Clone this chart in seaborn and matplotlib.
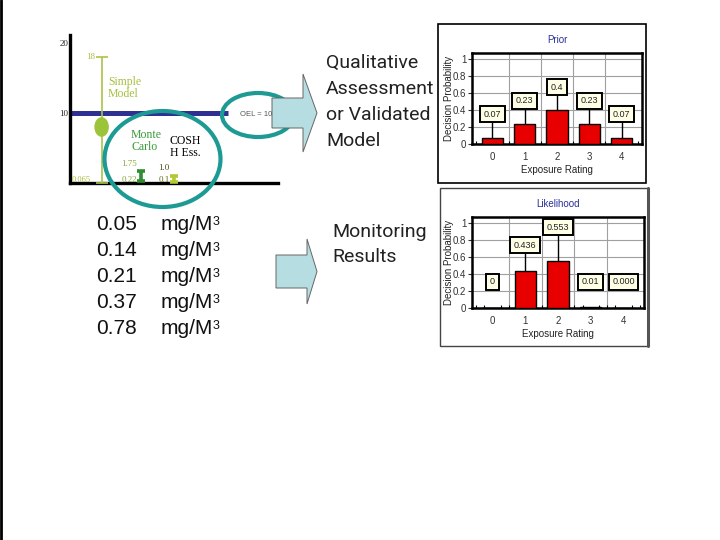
import matplotlib
matplotlib.use("Agg")
import matplotlib.pyplot as plt
import seaborn as sns
from matplotlib.patches import Ellipse, Polygon, Rectangle

# =====================================================
# DATA
# =====================================================

ratings = ["0", "1", "2", "3", "4"]

prior = [0.07, 0.23, 0.4, 0.23, 0.07]
prior_text = ["0.07", "0.23", "0.4", "0.23", "0.07"]

likelihood = [0.0, 0.436, 0.553, 0.01, 0.0]
likelihood_text = ["0", "0.436", "0.553", "0.01", "0.000"]

# exposure estimates (mg/M3): low / high end of each model range
model_names = ["Simple Model", "Monte Carlo", "COSHH Ess."]
model_low = [0.065, 0.22, 0.1]
model_high = [18, 1.75, 1.0]
model_low_text = ["0.065", "0.22", "0.1"]
model_high_text = ["18", "1.75", "1.0"]
simple_point = 8
oel = 10

monitoring = [0.05, 0.14, 0.21, 0.37, 0.78]

# =====================================================
# THEME / FIGURE
# =====================================================

sns.set_theme(style="white")
plt.rcParams["font.family"] = ["Liberation Sans", "DejaVu Sans"]

W, H = 720, 540
fig = plt.figure(figsize=(7.2, 5.4), dpi=100)
fig.patch.set_facecolor("white")


def px_axes(x0, y0, x1, y1, **kw):
    # axes box given in pixels, origin top-left
    return fig.add_axes([x0 / W, 1 - y1 / H, (x1 - x0) / W, (y1 - y0) / H], **kw)


TEAL = "#1d9a94"
OLIVE = "#a5c040"
SERIF = ["Liberation Serif", "DejaVu Serif"]
SLIDE = ["Roboto", "DejaVu Sans"]

# =====================================================
# LEFT: EXPOSURE MODEL DIAGRAM
# =====================================================

axl = px_axes(70, 35, 278, 183)
axl.set_facecolor("none")
axl.set_xlim(0, 10)
axl.set_ylim(0, 21.14)
for side in ["top", "right"]:
    axl.spines[side].set_visible(False)
for side in ["left", "bottom"]:
    axl.spines[side].set_color("black")
    axl.spines[side].set_linewidth(2.4)
axl.set_xticks([])
axl.set_yticks([10, 20])
axl.set_yticklabels(["10", "20"], family=SERIF, fontsize=6.5)
axl.tick_params(axis="y", length=0, pad=1)

axl.hlines(oel, 0, 7.6, color="#2e3192", lw=3.6, zorder=2)

xpos = [1.52, 3.41, 5.0]
colors = ["#a8c44a", "#2f8c2f", "#b3c833"]
widths = [1.2, 2.6, 2.6]
caps = [4.5, 2.6, 2.6]
for x, lo, hi, c, lw, cs in zip(xpos, model_low, model_high, colors, widths, caps):
    axl.errorbar([x], [hi], yerr=[[hi - lo], [0]], fmt="none", ecolor=c,
                 elinewidth=lw, capsize=cs, capthick=lw, zorder=3)

axl.add_patch(Ellipse((xpos[0], simple_point), 0.63, 2.6, color="#9cc43a", zorder=4))

axl.text(xpos[0] - 0.3, model_high[0], model_high_text[0], ha="right", va="center",
         family=SERIF, fontsize=6.5, color=OLIVE)
axl.text(0.1, 0.45, model_low_text[0], ha="left", va="center",
         family=SERIF, fontsize=6, color=OLIVE)
axl.text(xpos[1] - 0.2, 2.7, model_high_text[1], ha="right", va="center",
         family=SERIF, fontsize=6.5, color="#8aa83a")
axl.text(xpos[1] - 0.2, 0.45, model_low_text[1], ha="right", va="center",
         family=SERIF, fontsize=6.5, color="#8aa83a")
axl.text(xpos[2] - 0.2, 2.1, model_high_text[2], ha="right", va="center",
         family=SERIF, fontsize=6.5, color="#4a4a20")
axl.text(xpos[2] - 0.2, 0.45, model_low_text[2], ha="right", va="center",
         family=SERIF, fontsize=6.5, color="#6a6a20")

# =====================================================
# RIGHT: PROBABILITY PANELS
# =====================================================


def prob_panel(box, values, texts, title, label_y):
    ax = px_axes(*box)
    sns.barplot(x=ratings, y=values, color="#e80000", saturation=1,
                edgecolor="black", linewidth=1, width=0.65, ax=ax, zorder=3)
    ax.set_xlim(-0.63, 4.63)
    ax.set_ylim(0, 1.07)
    ax.set_yticks([0, 0.2, 0.4, 0.6, 0.8, 1.0])
    ax.set_yticklabels(["0", "0.2", "0.4", "0.6", "0.8", "1"])
    ax.set_xticks([0, 1, 2, 3, 4], minor=False)
    ax.set_xticks([k * 0.25 - 0.5 for k in range(21)], minor=True)
    ax.tick_params(axis="x", which="major", length=0, labelsize=7, colors="#333", pad=6)
    ax.tick_params(axis="x", which="minor", length=2.5, direction="in", width=0.8,
                   color="black", bottom=True)
    ax.tick_params(axis="y", length=3, width=0.8, labelsize=7, colors="#333", left=True,
                   pad=1)
    ax.yaxis.grid(True, color="#a0a0a0", lw=0.8)
    for k in range(4):
        ax.axvline(k + 0.5, color="#a0a0a0", lw=0.8, zorder=0)
    for s in ax.spines.values():
        s.set_color("black")
        s.set_linewidth(1.8)
    for i, (v, t, ly) in enumerate(zip(values, texts, label_y)):
        if v > 0.05:
            ax.vlines(i, v, ly, color="black", lw=1, zorder=4)
        ax.text(i, ly, t, ha="center", va="center", fontsize=6.5, color="#222",
                bbox=dict(boxstyle="square,pad=0.4", fc="#ffffe6", ec="black", lw=1.4),
                zorder=5)
    ax.set_title(title, color="#2a2f9a", fontsize=7, pad=7)
    ax.set_xlabel("Exposure Rating", fontsize=7, color="#222", labelpad=2)
    ax.set_ylabel("Decision Probability", fontsize=7, color="#222", labelpad=-1)
    ax.set_facecolor("white")
    return ax


prob_panel((472, 53, 642, 144), prior, prior_text, "Prior",
           [0.35, 0.51, 0.67, 0.51, 0.35])
prob_panel((472, 217, 644, 308), likelihood, likelihood_text, "Likelihood",
           [0.31, 0.74, 0.95, 0.31, 0.31])

# =====================================================
# OVERLAY: TEXT, CIRCLES, ARROWS, FRAMES
# =====================================================

cv = fig.add_axes([0, 0, 1, 1], zorder=5)
cv.set_xlim(0, W)
cv.set_ylim(H, 0)
cv.axis("off")
cv.patch.set_alpha(0)

cv.plot([1, 1], [0, H], color="black", lw=2)

cv.add_patch(Rectangle((438, 24), 208, 159, fill=False, ec="black", lw=1.2))
cv.add_patch(Rectangle((440, 188), 208, 158, fill=False, ec="#444", lw=1.0))
cv.plot([648, 648], [188, 346], color="#555", lw=2.2)

cv.text(108, 88, "Simple\nModel", family=SERIF, fontsize=8.5, color=OLIVE,
        ha="left", va="center", linespacing=1.0)
cv.text(131, 141, "Monte\nCarlo", family=SERIF, fontsize=8.5, color="#3a9a3a",
        ha="left", va="center", linespacing=1.05)
cv.text(170, 147, "COSH\nH Ess.", family=SERIF, fontsize=8.5, color="black",
        ha="left", va="center", linespacing=1.05)
cv.text(240, 114, "OEL = 10", fontsize=5.5, color="#555", ha="left", va="center")

cv.add_patch(Ellipse((162.5, 159), 116, 96, fill=False, ec=TEAL, lw=3.0))
cv.add_patch(Ellipse((258, 115), 72, 44, fill=False, ec=TEAL, lw=3.0))

arrow_fc = "#b6dde1"
cv.add_patch(Polygon([(272, 98), (303, 98), (303, 74), (317, 113), (303, 152),
                      (303, 128), (272, 128)], closed=True, fc=arrow_fc, ec="#666", lw=0.7))
cv.add_patch(Polygon([(276, 255), (307, 255), (307, 239), (317, 271.5), (307, 304),
                      (307, 288), (276, 288)], closed=True, fc=arrow_fc, ec="#666", lw=0.7))

for i, line in enumerate(["Qualitative", "Assessment", "or Validated", "Model"]):
    cv.text(326, 68 + 26 * i, line, family=SLIDE, fontsize=14,
            color="#222", ha="left", va="baseline")
for i, line in enumerate(["Monitoring", "Results"]):
    cv.text(332, 237 + 25.5 * i, line, family=SLIDE, fontsize=14,
            color="#222", ha="left", va="baseline")

for i, m in enumerate(monitoring):
    y = 230 + 25.9 * i
    cv.text(96, y, f"{m:.2f}", fontsize=15, color="#111", ha="left", va="baseline")
    cv.text(161, y, "mg/M", fontsize=15, color="#111", ha="left", va="baseline")
    cv.text(213, y - 5, "3", fontsize=9, color="#111", ha="left", va="baseline")

fig.savefig("out.png", dpi=100)
